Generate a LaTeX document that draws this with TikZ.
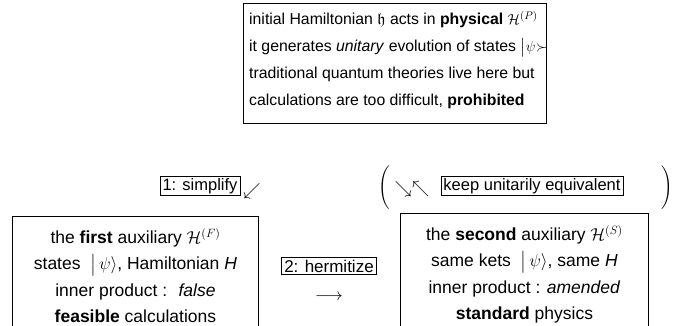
\documentclass[tikz,border=0pt]{standalone}
\usepackage{amsmath,amssymb}
\usepackage{fontspec}
\setmainfont{Liberation Sans}
\begin{document}
\begin{tikzpicture}[x=1pt,y=-1pt,
  bigbox/.style={draw, line width=0.9pt, inner sep=0pt},
  smallbox/.style={draw, line width=0.7pt, inner xsep=2.5pt, inner ysep=2pt, font=\fontsize{16.5}{19}\selectfont},
  txt/.style={font=\fontsize{15.8}{26.8}\selectfont, inner sep=0pt},
  btxt/.style={font=\fontsize{17.5}{26.3}\selectfont, inner sep=0pt},
  sym/.style={font=\fontsize{16}{19}\selectfont, inner sep=0pt}
]
\clip (0,0) rectangle (673,326);
\path[use as bounding box] (0,0) rectangle (673,326);

% top box
\node[bigbox, anchor=north west, minimum width=303pt, minimum height=120pt] (top) at (243,3) {};
\node[txt, anchor=north west, align=left] (toptxt) at ([xshift=6pt,yshift=-8pt]top.north west)
 {initial Hamiltonian $\mathfrak{h}$ acts in \textbf{physical} $\mathcal{H}^{(P)}$\\
  it generates \textit{unitary} evolution of states $\bigl|\psi\mkern1mu{\succ}$\\
  traditional quantum theories live here but\\
  calculations are too difficult, \textbf{prohibited}};

% middle row
\node[smallbox] (simp) at (200,186) {1: simplify};
\node[sym] (swarr) at (252,191) {$\swarrow$};
\node[sym, font=\fontsize{14.5}{17}\selectfont] (lpar) at (384,188) {$\Bigg($};
\node[sym] (senw) at (412,189) {$\searrow\nwarrow$};
\node[smallbox] (keep) at (532,186) {keep unitarily equivalent};
\node[sym, font=\fontsize{14.5}{17}\selectfont] (rpar) at (667,188) {$\Bigg)$};

% bottom left
\node[bigbox, anchor=north west, minimum width=246pt, minimum height=140pt] (first) at (12,216) {};
\node[btxt, anchor=north, align=center] (firsttxt) at ([yshift=-12pt]first.north)
 {the \textbf{first} auxiliary $\mathcal{H}^{(F)}$\\
  states \;$\bigl|\,\psi\rangle$, Hamiltonian \textit{H}\\
  inner product : \ \textit{false}\\
  \textbf{feasible} calculations};

% hermitize
\node[smallbox, font=\fontsize{17}{19}\selectfont] (herm) at (329,266) {2: hermitize};
\node[sym] (harr) at (329,297) {$\longrightarrow$};

% bottom right
\node[bigbox, anchor=north west, minimum width=248pt, minimum height=140pt] (second) at (400,213) {};
\node[btxt, anchor=north, align=center] (secondtxt) at ([yshift=-12pt]second.north)
 {the \textbf{second} auxiliary $\mathcal{H}^{(S)}$\\
  same kets \;$\bigl|\,\psi\rangle$, same \textit{H}\\
  inner product : \textit{amended}\\
  \textbf{standard} physics};
\end{tikzpicture}
\end{document}
